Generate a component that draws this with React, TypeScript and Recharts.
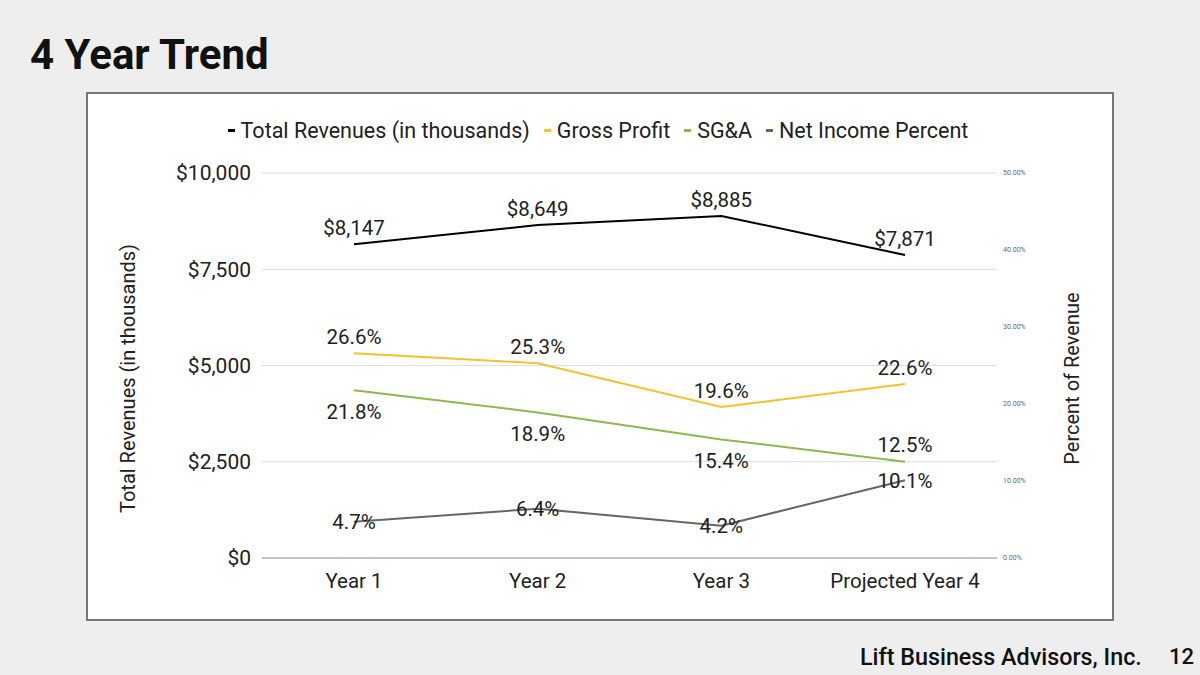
import React from 'react';
import {
  LineChart,
  Line,
  XAxis,
  YAxis,
  CartesianGrid,
  Legend,
  LabelList,
  Label
} from 'recharts';

// values
const categories = ['Year 1', 'Year 2', 'Year 3', 'Projected Year 4'];
const totalRevenues = [8147, 8649, 8885, 7871];
const grossProfit = [26.6, 25.3, 19.6, 22.6];
const sgaPercent = [21.8, 18.9, 15.4, 12.5];
const netIncomePercent = [4.7, 6.4, 4.2, 10.1];
const sgaLabelSide = ['bottom', 'bottom', 'bottom', 'top'];

const revenueTicks = [0, 2500, 5000, 7500, 10000];
const percentTicks = [0, 10, 20, 30, 40, 50];

const seriesInfo = [
  { key: 'revenue', name: 'Total Revenues (in thousands)', color: '#000000' },
  { key: 'gross', name: 'Gross Profit', color: '#f1c232' },
  { key: 'sga', name: 'SG&A', color: '#8fb84e' },
  { key: 'net', name: 'Net Income Percent', color: '#666666' }
];

const chartData = categories.map((name, i) => ({
  name,
  revenue: totalRevenues[i],
  gross: grossProfit[i],
  sga: sgaPercent[i],
  net: netIncomePercent[i]
}));

const FONT = 'Roboto, "Noto Sans", sans-serif';
const TEXT = '#212121';

const money = (v: number) => `$${v.toLocaleString('en-US')}`;
const pct = (v: number) => `${v.toFixed(1)}%`;

const LegendRow = () => (
  <div
    style={{
      display: 'flex',
      justifyContent: 'center',
      alignItems: 'center',
      fontSize: 21.5,
      color: TEXT,
      fontFamily: FONT,
      whiteSpace: 'nowrap',
      paddingRight: 4
    }}
  >
    {seriesInfo.map((s, i) => (
      <span
        key={s.key}
        style={{
          display: 'flex',
          alignItems: 'center',
          marginRight: i < seriesInfo.length - 1 ? 14 : 0
        }}
      >
        <span
          style={{
            display: 'inline-block',
            width: 7,
            height: 3,
            background: s.color,
            marginRight: 6
          }}
        />
        {s.name}
      </span>
    ))}
  </div>
);

const sgaLabel = (props: any) => {
  const vb = props.viewBox || {};
  const x = vb.x ?? props.x;
  const y = vb.y ?? props.y;
  const above = sgaLabelSide[props.index] === 'top';
  return (
    <text
      x={x}
      y={above ? y - 10 : y + 29}
      textAnchor="middle"
      fontSize={20.5}
      fill={TEXT}
    >
      {pct(Number(props.value))}
    </text>
  );
};

const rotatedTitle = (text: string, dx: number, dy: number) => (props: any) => {
  const vb = props.viewBox || {};
  const cx = vb.x + dx;
  const cy = vb.y + vb.height / 2 + dy;
  return (
    <text
      x={cx}
      y={cy}
      transform={`rotate(-90, ${cx}, ${cy})`}
      textAnchor="middle"
      dominantBaseline="central"
      fontSize={20}
      fill={TEXT}
    >
      {text}
    </text>
  );
};

const App = () => {
  return (
    <div
      style={{
        position: 'absolute',
        left: 0,
        top: 0,
        width: 1200,
        height: 675,
        background: '#eeeeee',
        fontFamily: FONT,
        color: '#111'
      }}
    >
      <div
        style={{
          position: 'absolute',
          left: 30,
          top: 34,
          fontSize: 42,
          lineHeight: '42px',
          fontWeight: 700
        }}
      >
        4 Year Trend
      </div>

      <div
        style={{
          position: 'absolute',
          left: 86,
          top: 92,
          width: 1024,
          height: 525,
          background: '#ffffff',
          border: '2px solid #777777'
        }}
      >
        <LineChart
          width={1024}
          height={525}
          data={chartData}
          margin={{ top: 79, right: 0, bottom: 21, left: 0 }}
          style={{ fontFamily: FONT }}
        >
          <CartesianGrid yAxisId="left" vertical={false} stroke="#dddddd" />
          <XAxis
            dataKey="name"
            yAxisId="left"
            height={40}
            padding={{ left: 92, right: 92 }}
            tickLine={false}
            axisLine={{ stroke: '#999999' }}
            tickMargin={9}
            tick={{ fontSize: 20.5, fill: TEXT }}
          />
          <YAxis
            yAxisId="left"
            width={174}
            domain={[0, 10000]}
            ticks={revenueTicks}
            tickFormatter={money}
            axisLine={false}
            tickLine={false}
            tickMargin={5}
            tick={{ fontSize: 21, fill: TEXT }}
          >
            <Label content={rotatedTitle('Total Revenues (in thousands)', 40, 13)} />
          </YAxis>
          <YAxis
            yAxisId="right"
            orientation="right"
            width={115}
            domain={[0, 50]}
            ticks={percentTicks}
            tickFormatter={(v: number) => `${v.toFixed(2)}%`}
            axisLine={false}
            tickLine={false}
            tickMargin={0}
            tick={{ fontSize: 7, fill: '#666666' }}
          >
            <Label content={rotatedTitle('Percent of Revenue', 75, 13)} />
          </YAxis>
          <Legend
            layout="horizontal"
            verticalAlign="middle"
            align="center"
            content={() => <LegendRow />}
            wrapperStyle={{ top: 24, left: 0, width: 1024 }}
          />
          <Line
            yAxisId="left"
            type="linear"
            dataKey="revenue"
            name={seriesInfo[0].name}
            stroke={seriesInfo[0].color}
            strokeWidth={2}
            dot={false}
            isAnimationActive={false}
          >
            <LabelList
              dataKey="revenue"
              position="top"
              offset={9}
              formatter={(v: any) => money(Number(v))}
              style={{ fontSize: 20.5, fill: TEXT }}
            />
          </Line>
          <Line
            yAxisId="right"
            type="linear"
            dataKey="gross"
            name={seriesInfo[1].name}
            stroke={seriesInfo[1].color}
            strokeWidth={2}
            dot={false}
            isAnimationActive={false}
          >
            <LabelList
              dataKey="gross"
              position="top"
              offset={9}
              formatter={(v: any) => pct(Number(v))}
              style={{ fontSize: 20.5, fill: TEXT }}
            />
          </Line>
          <Line
            yAxisId="right"
            type="linear"
            dataKey="sga"
            name={seriesInfo[2].name}
            stroke={seriesInfo[2].color}
            strokeWidth={2}
            dot={false}
            isAnimationActive={false}
          >
            <LabelList dataKey="sga" content={sgaLabel} />
          </Line>
          <Line
            yAxisId="right"
            type="linear"
            dataKey="net"
            name={seriesInfo[3].name}
            stroke={seriesInfo[3].color}
            strokeWidth={2}
            dot={false}
            isAnimationActive={false}
          >
            <LabelList
              dataKey="net"
              position="center"
              formatter={(v: any) => pct(Number(v))}
              style={{ fontSize: 20.5, fill: TEXT }}
            />
          </Line>
        </LineChart>
      </div>

      <div
        style={{
          position: 'absolute',
          left: 860,
          top: 646,
          fontSize: 23.3,
          lineHeight: '23px',
          fontWeight: 500,
          whiteSpace: 'nowrap'
        }}
      >
        Lift Business Advisors, Inc.
      </div>
      <div
        style={{
          position: 'absolute',
          left: 1169,
          top: 646,
          fontSize: 22,
          lineHeight: '22px',
          fontWeight: 500
        }}
      >
        12
      </div>
    </div>
  );
};

export default App;
